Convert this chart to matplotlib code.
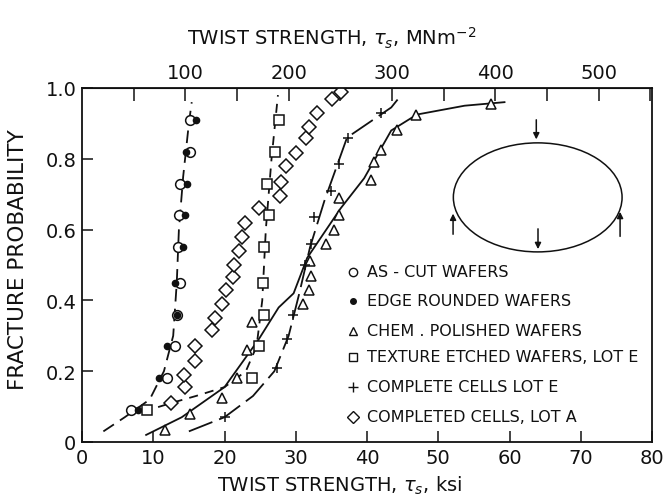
import matplotlib
matplotlib.use("Agg")
import matplotlib.pyplot as plt
from matplotlib.patches import Ellipse

plt.rcParams['font.family'] = ['DejaVu Sans']
plt.rcParams['mathtext.fontset'] = 'dejavusans'

# ---- data (twist strength in ksi, fracture probability) ----
prob10 = [0.09, 0.18, 0.27, 0.36, 0.45, 0.55, 0.64, 0.73, 0.82, 0.91]

as_cut_ksi = [6.9, 11.9, 13.1, 13.4, 13.7, 13.5, 13.6, 13.8, 15.2, 15.1]
as_cut_p = prob10

edge_ksi = [7.9, 10.8, 11.9, 13.4, 13.1, 14.2, 14.4, 14.7, 14.6, 16.0]
edge_p = prob10

texture_ksi = [9.1, 23.8, 24.8, 25.5, 25.4, 25.6, 26.2, 26.0, 27.1, 27.6]
texture_p = prob10

chem_ksi = [11.7, 15.2, 19.6, 21.7, 23.1, 23.8, 31.0, 31.9, 32.2, 32.0,
            34.3, 35.3, 36.0, 36.0, 40.5, 41.0, 42.0, 44.2, 46.9, 57.4]
chem_p = [0.035, 0.08, 0.125, 0.18, 0.26, 0.34, 0.39, 0.43, 0.47, 0.51,
          0.56, 0.60, 0.64, 0.69, 0.74, 0.79, 0.825, 0.88, 0.925, 0.956]

cells_e_ksi = [20.1, 27.4, 28.8, 29.6, 31.3, 32.2, 32.5, 35.0, 36.0, 37.4, 42.0]
cells_e_p = [0.07, 0.21, 0.29, 0.36, 0.50, 0.56, 0.635, 0.71, 0.785, 0.86, 0.93]

cells_a_ksi = [12.5, 14.5, 14.3, 15.8, 15.8, 18.2, 18.7, 19.7, 20.2, 21.2,
               21.3, 22.0, 22.4, 22.9, 24.9, 27.8, 27.9, 28.7, 30.0, 31.5,
               31.8, 33.0, 35.1, 36.3]
cells_a_p = [0.11, 0.155, 0.19, 0.23, 0.27, 0.315, 0.35, 0.39, 0.43, 0.465,
             0.50, 0.54, 0.58, 0.62, 0.66, 0.695, 0.735, 0.78, 0.815, 0.86,
             0.89, 0.93, 0.97, 0.99]

# fitted distribution curves
as_cut_fit_ksi = [3.0, 6.0, 9.5, 11.5, 12.8, 13.3, 13.6, 14.2, 15.0, 15.4]
as_cut_fit_p = [0.03, 0.07, 0.12, 0.20, 0.30, 0.45, 0.60, 0.75, 0.90, 0.96]

texture_fit_ksi = [8.5, 12.5, 16.0, 20.0, 23.0, 24.5, 25.3, 25.8, 26.6, 27.5]
texture_fit_p = [0.085, 0.11, 0.13, 0.155, 0.20, 0.27, 0.40, 0.60, 0.80, 0.98]

chem_fit_ksi = [9.0, 14.0, 20.0, 24.8, 27.6, 29.7, 31.6, 36.3, 39.6, 43.4, 47.0, 53.7, 59.3]
chem_fit_p = [0.02, 0.07, 0.155, 0.29, 0.38, 0.42, 0.52, 0.66, 0.745, 0.88, 0.925, 0.95, 0.96]

cells_e_fit_ksi = [15.0, 20.0, 24.0, 27.0, 29.0, 30.5, 32.0, 34.0, 37.2, 43.4, 44.8]
cells_e_fit_p = [0.03, 0.07, 0.13, 0.20, 0.30, 0.42, 0.55, 0.68, 0.86, 0.945, 0.98]

x_ticks = [0, 10, 20, 30, 40, 50, 60, 70, 80]
y_ticks = [0, 0.2, 0.4, 0.6, 0.8, 1.0]
y_ticklabels = ['0', '0.2', '0.4', '0.6', '0.8', '1.0']
mpa_major = [100, 200, 300, 400, 500]
mpa_minor = [50, 150, 250, 350, 450, 550]
KSI_TO_MPA = 6.895

legend_labels = ['AS - CUT WAFERS', 'EDGE ROUNDED WAFERS', 'CHEM . POLISHED WAFERS',
                 'TEXTURE ETCHED WAFERS, LOT E', 'COMPLETE CELLS LOT E',
                 'COMPLETED CELLS, LOT A']

# ---- figure ----
fig = plt.figure(figsize=(6.63, 5.02), dpi=100)
ax = fig.add_axes([82 / 663, 1 - 443 / 502, 570 / 663, 354 / 502])
ink = '#111111'

# curves
ax.plot(as_cut_fit_ksi, as_cut_fit_p, color=ink, lw=1.3, dashes=(7, 4))
ax.plot(texture_fit_ksi, texture_fit_p, color=ink, lw=1.3, dashes=(5, 4))
ax.plot(chem_fit_ksi, chem_fit_p, color=ink, lw=1.3)
ax.plot(cells_e_fit_ksi, cells_e_fit_p, color=ink, lw=1.3, dashes=(14, 4))

# data markers
ms_kw = dict(linestyle='none', markerfacecolor='white', markeredgecolor=ink,
             markeredgewidth=1.1)
ax.plot(as_cut_ksi, as_cut_p, marker='o', markersize=7, **ms_kw)
ax.plot(edge_ksi, edge_p, linestyle='none', marker='o', markersize=4.5,
        color=ink)
ax.plot(texture_ksi, texture_p, marker='s', markersize=6.5, **ms_kw)
ax.plot(chem_ksi, chem_p, marker='^', markersize=7, **ms_kw)
ax.plot(cells_e_ksi, cells_e_p, linestyle='none', marker='+', markersize=7,
        markeredgewidth=1.1, color=ink)
ax.plot(cells_a_ksi, cells_a_p, marker='D', markersize=7, **ms_kw)

ax.set_xlim(0, 80)
ax.set_ylim(0, 1.0)
ax.set_xticks(x_ticks)
ax.set_yticks(y_ticks)
ax.set_yticklabels(y_ticklabels)
ax.tick_params(direction='in', length=8, width=1.1, labelsize=14, colors=ink,
               pad=4)
for s in ax.spines.values():
    s.set_linewidth(1.3)
    s.set_color(ink)

# top axis in MN m^-2
sec = ax.secondary_xaxis('top', functions=(lambda k: k * KSI_TO_MPA,
                                           lambda m: m / KSI_TO_MPA))
sec.set_xticks(mpa_major)
sec.set_xticks(mpa_minor, minor=True)
sec.tick_params(which='both', direction='in', length=9, width=1.1,
                labelsize=14, colors=ink, pad=4)

fig.text(0.500, 1 - 38 / 502, r'TWIST STRENGTH, $\tau_s$, MNm$^{-2}$',
         ha='center', va='center', fontsize=14, color=ink)
fig.text(0.512, 1 - 486 / 502, r'TWIST STRENGTH, $\tau_s$, ksi',
         ha='center', va='center', fontsize=14, color=ink)
fig.text(18 / 663, 1 - 260 / 502, 'FRACTURE PROBABILITY', rotation=90,
         ha='center', va='center', fontsize=15.5, color=ink)

# legend drawn as marker + text rows
markers = [('o', 'white', 6), ('o', ink, 4), ('^', 'white', 6),
           ('s', 'white', 6), ('+', ink, 7), ('D', 'white', 6)]
row_y = [273, 302, 332, 358, 388, 418]
for (m, fc, sz), lbl, py in zip(markers, legend_labels, row_y):
    yf = (443 - py) / 354
    ax.plot([(353 - 82) / 570], [yf], transform=ax.transAxes, marker=m,
            markersize=sz, markerfacecolor=fc, markeredgecolor=ink,
            markeredgewidth=1.0, color=ink, linestyle='none', clip_on=False)
    ax.text((367 - 82) / 570, yf, lbl, transform=ax.transAxes, ha='left',
            va='center', fontsize=11.5, color=ink)

# specimen loading sketch
ax.add_patch(Ellipse((0.7995, 0.691), 0.296, 0.308, transform=ax.transAxes,
                     fill=False, edgecolor=ink, lw=1.1))
arrow_kw = dict(arrowstyle='-|>', color=ink, lw=1.1, mutation_scale=9)
for x0, y0, y1 in [(0.797, 0.918, 0.847), (0.800, 0.610, 0.537),
                   (0.651, 0.579, 0.653), (0.944, 0.573, 0.658)]:
    ax.annotate('', xy=(x0, y1), xytext=(x0, y0), xycoords='axes fraction',
                arrowprops=arrow_kw)

fig.savefig('out.png', dpi=100)
